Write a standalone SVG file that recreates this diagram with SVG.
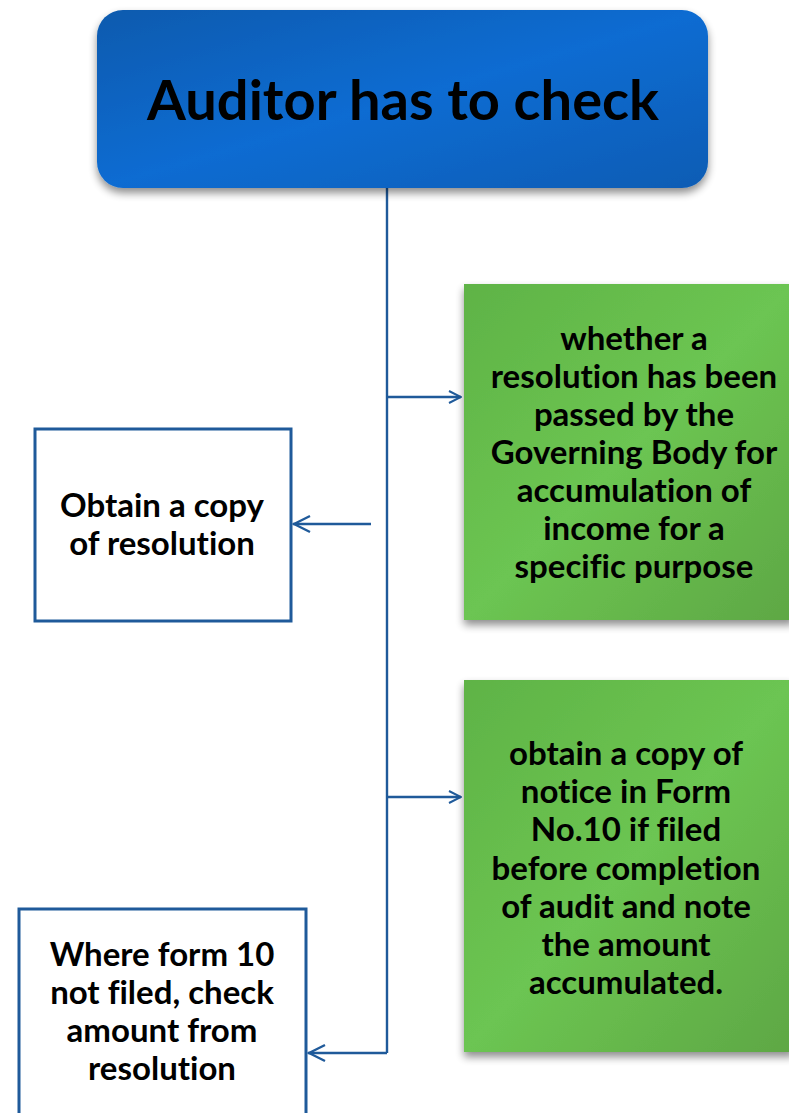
<svg xmlns="http://www.w3.org/2000/svg" width="789" height="1113" viewBox="0 0 789 1113">
<defs>
<linearGradient id="gBlue" x1="0" y1="0" x2="1" y2="1">
<stop offset="0" stop-color="#0a5aae"/>
<stop offset="0.5" stop-color="#0a6cd2"/>
<stop offset="1" stop-color="#0a5cb4"/>
</linearGradient>
<linearGradient id="gGreen" x1="0" y1="0" x2="1" y2="1">
<stop offset="0" stop-color="#5fb346"/>
<stop offset="0.5" stop-color="#6cc552"/>
<stop offset="1" stop-color="#5ea744"/>
</linearGradient>
<filter id="sh" x="-10%" y="-10%" width="120%" height="130%">
<feGaussianBlur in="SourceAlpha" stdDeviation="4"/>
<feOffset dx="0" dy="5"/>
<feComponentTransfer><feFuncA type="linear" slope="0.45"/></feComponentTransfer>
<feMerge><feMergeNode/><feMergeNode in="SourceGraphic"/></feMerge>
</filter>
<marker id="arr" viewBox="0 0 14 14" refX="13" refY="7" markerWidth="14" markerHeight="14" markerUnits="userSpaceOnUse" orient="auto">
<path d="M1,1 L13,7 L1,13" fill="none" stroke="#1f5a9a" stroke-width="2"/>
</marker>
<marker id="arrB" viewBox="0 0 20 20" refX="19" refY="10" markerWidth="20" markerHeight="20" markerUnits="userSpaceOnUse" orient="auto">
<path d="M2,2 L18,10 L2,18" fill="none" stroke="#1f5a9a" stroke-width="2.4"/>
</marker>
</defs>
<style>
.t{font-family:Lato,"Open Sans","Liberation Sans",sans-serif;font-weight:bold;fill:#000;text-anchor:middle;font-variant-ligatures:none}
.m{font-size:33px}
.box{fill:#fff;stroke:#1f5a9a;stroke-width:3}
.c{fill:none;stroke:#1f5a9a;stroke-width:2.4}
</style>
<g id="connectors">
<path class="c" d="M387,188 V1053"/>
<path class="c" d="M387,397 H461" marker-end="url(#arr)"/>
<path class="c" d="M387,797 H461" marker-end="url(#arr)"/>
<path class="c" d="M371,524 H293" marker-end="url(#arrB)"/>
<path class="c" d="M387,1053 H308" marker-end="url(#arrB)"/>
</g>
<g id="top">
<rect x="97" y="10" width="611" height="178" rx="26" fill="url(#gBlue)" filter="url(#sh)"/>
<text class="t" x="403" y="120" font-size="56">Auditor has to check</text>
</g>
<g id="green1">
<rect x="464" y="284" width="330" height="336" fill="url(#gGreen)" filter="url(#sh)"/>
<text class="t m" x="634"><tspan x="634" y="350">whether a</tspan><tspan x="634" y="388">resolution has been</tspan><tspan x="634" y="426">passed by the</tspan><tspan x="634" y="464">Governing Body for</tspan><tspan x="634" y="502">accumulation of</tspan><tspan x="634" y="540">income for a</tspan><tspan x="634" y="578">specific purpose</tspan></text>
</g>
<g id="green2">
<rect x="464" y="680" width="330" height="372" fill="url(#gGreen)" filter="url(#sh)"/>
<text class="t m" x="626"><tspan x="626" y="765">obtain a copy of</tspan><tspan x="626" y="803">notice in Form</tspan><tspan x="626" y="841">No.10 if filed</tspan><tspan x="626" y="880">before completion</tspan><tspan x="626" y="918">of audit and note</tspan><tspan x="626" y="956">the amount</tspan><tspan x="626" y="994">accumulated.</tspan></text>
</g>
<g id="box1">
<rect class="box" x="35" y="429" width="256" height="192"/>
<text class="t m" x="162"><tspan x="162" y="517">Obtain a copy</tspan><tspan x="162" y="555">of resolution</tspan></text>
</g>
<g id="box2">
<rect class="box" x="19" y="909" width="287" height="220"/>
<text class="t m" x="162"><tspan x="162" y="966">Where form 10</tspan><tspan x="162" y="1004">not filed, check</tspan><tspan x="162" y="1042">amount from</tspan><tspan x="162" y="1080">resolution</tspan></text>
</g>
</svg>
